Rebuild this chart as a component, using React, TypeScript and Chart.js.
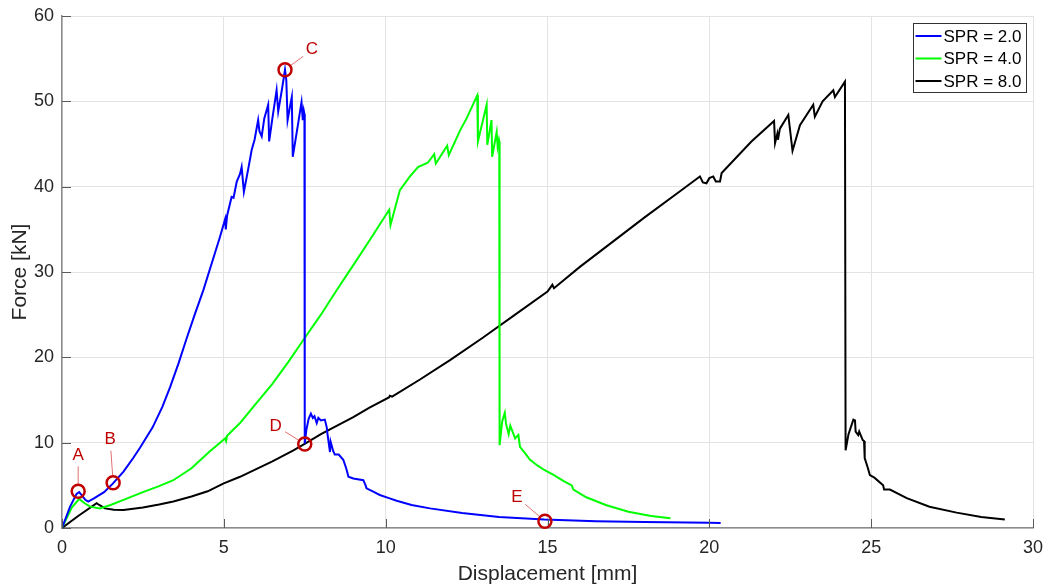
import React, { useEffect, useRef } from "react";
import { Chart, registerables } from "chart.js";

Chart.register(...registerables);

// ---------- Data ----------
const seriesLabels = ["SPR = 2.0", "SPR = 4.0", "SPR = 8.0"];
const seriesColors = ["#0000ff", "#00ff00", "#000000"];

const spr2X = [0, 0.25, 0.45, 0.53, 0.62, 0.72, 0.81, 1.0, 1.3, 1.57, 1.9, 2.2, 2.41, 2.8, 3.1, 3.34, 3.6, 3.85, 4.1, 4.37, 4.6, 4.88, 5.04, 5.06, 5.1, 5.24, 5.3, 5.4, 5.5, 5.55, 5.62, 5.75, 5.86, 5.95, 6.06, 6.1, 6.17, 6.25, 6.37, 6.4, 6.5, 6.63, 6.68, 6.8, 6.89, 6.93, 6.97, 7.05, 7.1, 7.13, 7.3, 7.4, 7.44, 7.47, 7.49, 7.5, 7.55, 7.62, 7.69, 7.75, 7.8, 7.87, 7.92, 8.0, 8.12, 8.18, 8.2, 8.28, 8.3, 8.38, 8.43, 8.55, 8.69, 8.78, 8.85, 9.0, 9.31, 9.38, 9.41, 9.6, 9.82, 10.1, 10.34, 10.8, 11.37, 12.36, 13.5, 14.9, 16.5, 18.0, 20.0, 20.35];
const spr2Y = [0, 2.5, 4.0, 4.2, 3.8, 3.3, 3.1, 3.5, 4.2, 5.2, 6.6, 8.2, 9.4, 11.8, 14.2, 16.5, 19.3, 22.2, 25.0, 27.9, 30.7, 34.1, 36.2, 35.0, 36.6, 38.8, 38.7, 40.6, 41.5, 42.3, 39.4, 42.0, 44.3, 45.5, 47.8, 46.5, 45.9, 48.0, 49.6, 45.3, 48.0, 51.3, 48.8, 51.5, 53.7, 52.5, 47.8, 49.5, 50.5, 43.5, 47.5, 49.9, 47.8, 48.9, 48.5, 9.9, 11.5, 12.8, 13.4, 12.9, 13.1, 12.3, 12.9, 12.6, 12.7, 11.8, 11.1, 8.9, 10.1, 9.0, 8.6, 8.6, 8.0, 7.0, 6.0, 5.8, 5.6, 5.0, 4.65, 4.3, 3.87, 3.5, 3.2, 2.7, 2.3, 1.75, 1.3, 1.0, 0.8, 0.7, 0.62, 0.6];

const spr4X = [0, 0.3, 0.53, 0.7, 0.87, 1.17, 1.5, 1.9, 2.5, 3.0, 3.44, 4.0, 4.57, 5.04, 5.07, 5.1, 5.5, 5.91, 6.5, 7.0, 7.45, 8.0, 8.49, 9.0, 9.51, 10.11, 10.15, 10.44, 10.75, 11.0, 11.3, 11.5, 11.55, 11.9, 11.95, 12.3, 12.5, 12.83, 12.85, 13.12, 13.14, 13.27, 13.29, 13.43, 13.46, 13.5, 13.51, 13.52, 13.6, 13.68, 13.72, 13.8, 13.85, 14.0, 14.1, 14.15, 14.3, 14.46, 14.7, 14.9, 15.2, 15.5, 15.75, 15.8, 16.2, 16.8, 17.5, 18.2, 18.8];
const spr4Y = [0, 2.4, 3.4, 2.9, 2.5, 2.3, 2.7, 3.3, 4.2, 4.9, 5.6, 7.0, 9.0, 10.5, 10.2, 10.8, 12.3, 14.2, 16.9, 19.5, 22.0, 25.0, 27.9, 30.8, 33.75, 37.3, 35.5, 39.6, 41.2, 42.3, 42.8, 43.8, 42.7, 44.8, 43.7, 46.6, 48.0, 50.7, 45.3, 49.6, 44.9, 47.8, 43.5, 46.4, 44.7, 45.5, 45.3, 9.7, 12.5, 13.5, 12.2, 11.0, 12.0, 10.5, 10.9, 9.5, 8.8, 8.0, 7.3, 6.8, 6.2, 5.5, 5.0, 4.5, 3.6, 2.7, 1.9, 1.4, 1.15];

const spr8X = [0, 0.5, 1.07, 1.15, 1.33, 1.6, 1.9, 2.5, 3.0, 3.44, 4.0, 4.5, 4.98, 5.5, 6.0, 6.5, 7.15, 7.51, 8.0, 8.5, 9.0, 9.5, 10.1, 10.13, 10.2, 11.06, 12.0, 13.0, 14.0, 15.0, 15.15, 15.2, 16.0, 17.0, 18.0, 19.0, 19.5, 19.71, 19.8, 19.91, 20.0, 20.12, 20.2, 20.33, 20.38, 21.3, 22.0, 22.03, 22.1, 22.12, 22.18, 22.44, 22.57, 22.8, 23.21, 23.26, 23.5, 23.83, 23.88, 24.19, 24.21, 24.3, 24.45, 24.5, 24.52, 24.6, 24.63, 24.74, 24.78, 24.8, 24.9, 24.96, 25.1, 25.37, 25.4, 25.58, 26.1, 26.8, 27.64, 28.4, 29.13];
const spr8Y = [0, 1.4, 2.9, 2.7, 2.3, 2.15, 2.1, 2.4, 2.75, 3.1, 3.7, 4.3, 5.2, 6.0, 6.9, 7.8, 9.1, 9.9, 11.0, 12.0, 13.0, 14.1, 15.3, 15.5, 15.4, 17.4, 19.7, 22.3, 25.0, 27.7, 28.5, 28.1, 30.6, 33.5, 36.4, 39.2, 40.6, 41.2, 40.5, 40.4, 41.0, 41.2, 40.6, 40.6, 41.6, 45.3, 47.7, 45.1, 46.2, 45.5, 46.8, 48.4, 44.2, 47.2, 49.6, 48.2, 50.0, 51.3, 50.5, 52.3, 9.1, 11.0, 12.7, 12.6, 11.3, 10.9, 11.3, 10.3, 10.2, 8.2, 7.0, 6.2, 5.9, 5.0, 4.5, 4.5, 3.5, 2.5, 1.8, 1.3, 1.0];

// Annotation points (data coordinates)
const markerLabels = ["A", "B", "C", "D", "E"];
const markerX = [0.5, 1.58, 6.89, 7.5, 14.92];
const markerY = [4.3, 5.3, 53.7, 9.85, 0.8];
// label offsets in pixels relative to the circle
const markerDX = [0, -3, 27, -29, -28];
const markerDY = [-36, -43, -20, -18, -24];

const xMin = 0, xMax = 30, xStep = 5;
const yMin = 0, yMax = 60, yStep = 10;

const FONT = "'Liberation Sans', Arial, Helvetica, sans-serif";
const TEXT = "#262626";

function toPoints(xs: number[], ys: number[]) {
  return xs.map((x, i) => ({ x, y: ys[i] }));
}

const decorPlugin = {
  id: "decor",
  afterDatasetsDraw(chart: any) {
    const ctx = chart.ctx;
    const xs = chart.scales.x;
    const ys = chart.scales.y;
    const area = chart.chartArea;
    ctx.save();
    // inward tick marks
    ctx.strokeStyle = "#5a5a5a";
    ctx.lineWidth = 1;
    ctx.beginPath();
    for (let v = xMin; v <= xMax; v += xStep) {
      const px = Math.round(xs.getPixelForValue(v)) + 0.5;
      ctx.moveTo(px, area.bottom);
      ctx.lineTo(px, area.bottom - 9);
    }
    for (let v = yMin; v <= yMax; v += yStep) {
      const py = Math.round(ys.getPixelForValue(v)) + 0.5;
      ctx.moveTo(area.left, py);
      ctx.lineTo(area.left + 9, py);
    }
    ctx.stroke();

    // annotations
    for (let i = 0; i < markerLabels.length; i++) {
      const cx = xs.getPixelForValue(markerX[i]);
      const cy = ys.getPixelForValue(markerY[i]);
      const lx = cx + markerDX[i];
      const ly = cy + markerDY[i];
      const dx = lx - cx, dy = ly - cy;
      const len = Math.sqrt(dx * dx + dy * dy);
      const ux = dx / len, uy = dy / len;
      ctx.strokeStyle = "#e07070";
      ctx.lineWidth = 1;
      ctx.beginPath();
      ctx.moveTo(cx + ux * 7, cy + uy * 7);
      ctx.lineTo(lx - ux * 11, ly - uy * 11);
      ctx.stroke();
      ctx.strokeStyle = "#c00000";
      ctx.lineWidth = 2.5;
      ctx.beginPath();
      ctx.arc(cx, cy, 6.5, 0, Math.PI * 2);
      ctx.stroke();
      ctx.fillStyle = "#c00000";
      ctx.font = `17px ${FONT}`;
      ctx.textAlign = "center";
      ctx.textBaseline = "middle";
      ctx.fillText(markerLabels[i], lx, ly);
    }

    // legend
    const bx = 913.5, by = 23.5, bw = 113, bh = 69;
    ctx.fillStyle = "#ffffff";
    ctx.fillRect(bx, by, bw, bh);
    ctx.strokeStyle = "#333333";
    ctx.lineWidth = 1;
    ctx.strokeRect(bx, by, bw, bh);
    ctx.font = `17px ${FONT}`;
    ctx.textAlign = "left";
    ctx.textBaseline = "middle";
    for (let i = 0; i < seriesLabels.length; i++) {
      const yy = by + 12.5 + i * 22.5;
      ctx.strokeStyle = seriesColors[i];
      ctx.lineWidth = 2;
      ctx.beginPath();
      ctx.moveTo(bx + 2, yy);
      ctx.lineTo(bx + 28, yy);
      ctx.stroke();
      ctx.fillStyle = "#000000";
      ctx.fillText(seriesLabels[i], bx + 30, yy + 1);
    }
    ctx.restore();
  },
};

function zeroPad(s: any) {
  s.paddingTop = 0;
  s.paddingBottom = 0;
  s.paddingLeft = 0;
  s.paddingRight = 0;
}

export default function App() {
  const ref = useRef<HTMLCanvasElement | null>(null);
  useEffect(() => {
    if (!ref.current) return;
    const seriesX = [spr2X, spr4X, spr8X];
    const seriesY = [spr2Y, spr4Y, spr8Y];
    const chart = new Chart(ref.current, {
      type: "scatter",
      data: {
        datasets: seriesLabels.map((label, i) => ({
          label,
          data: toPoints(seriesX[i], seriesY[i]),
          showLine: true,
          borderColor: seriesColors[i],
          backgroundColor: seriesColors[i],
          borderWidth: 2,
          pointRadius: 0,
          tension: 0,
        })),
      },
      options: {
        animation: false,
        responsive: false,
        devicePixelRatio: 1,
        layout: { padding: { top: 16, right: 15, left: 0, bottom: 0 } },
        plugins: { legend: { display: false }, tooltip: { enabled: false } },
        scales: {
          x: {
            type: "linear",
            min: xMin,
            max: xMax,
            afterFit: (s: any) => { s.height = 59; zeroPad(s); },
            ticks: { stepSize: xStep, color: TEXT, font: { family: FONT, size: 18 }, padding: 9, maxRotation: 0 },
            grid: { color: "#e3e3e3", drawTicks: false, lineWidth: 1 },
            border: { color: "#8c8c8c", width: 1.5 },
            title: { display: true, text: "Displacement [mm]", color: TEXT, font: { family: FONT, size: 21 }, padding: { top: 0, bottom: 0 } },
          },
          y: {
            type: "linear",
            min: yMin,
            max: yMax,
            afterFit: (s: any) => { s.width = 62; zeroPad(s); },
            ticks: { stepSize: yStep, color: TEXT, font: { family: FONT, size: 18 }, padding: 8 },
            grid: { color: "#e3e3e3", drawTicks: false, lineWidth: 1 },
            border: { color: "#8c8c8c", width: 1.5 },
            title: { display: true, text: "Force [kN]", color: TEXT, font: { family: FONT, size: 21 }, padding: { top: 8, bottom: 0 } },
          },
        },
      },
      plugins: [decorPlugin],
    } as any);
    return () => chart.destroy();
  }, []);
  return (
    <div style={{ position: "absolute", left: 0, top: 0, width: 1048, height: 587, background: "#fff" }}>
      <canvas ref={ref} width={1048} height={587} style={{ width: 1048, height: 587, display: "block" }} />
    </div>
  );
}
